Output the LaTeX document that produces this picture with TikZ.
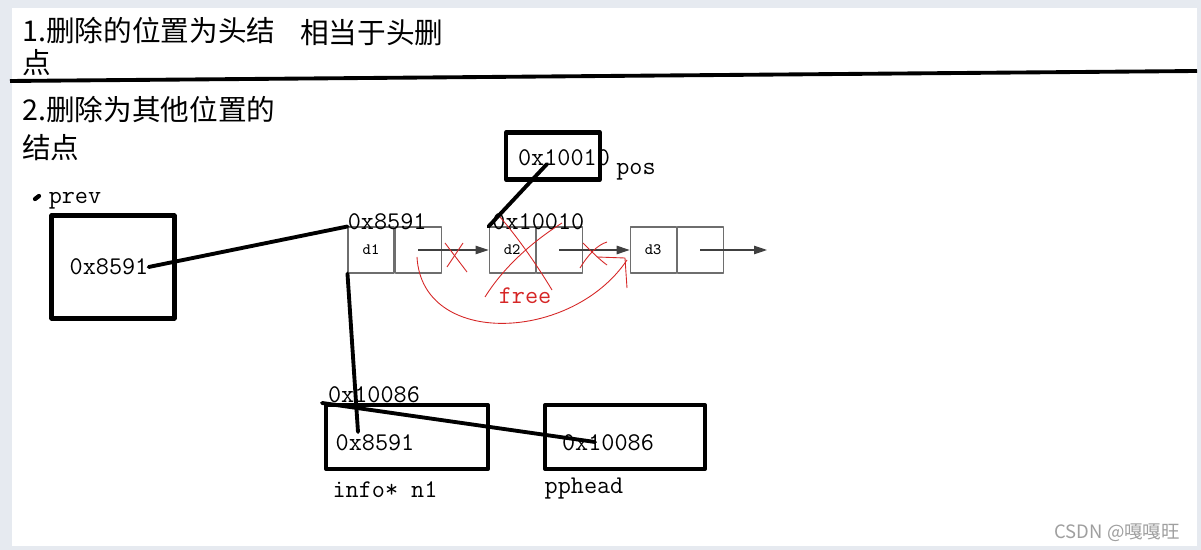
\documentclass[tikz,border=0pt]{standalone}
\usepackage{fontspec}
\newfontfamily\cjk{Noto Sans CJK SC}
\usetikzlibrary{arrows.meta,positioning}
\definecolor{pagegray}{RGB}{230,234,240}
\definecolor{penred}{RGB}{214,38,38}
\definecolor{cellgray}{RGB}{110,110,110}

\begin{document}
\begin{tikzpicture}[x=0.02cm,y=-0.02cm,line join=round,
  hand/.style={font=\cjk\fontsize{16.3}{18}\selectfont,anchor=west,inner sep=0pt},
  addr/.style={font=\ttfamily\fontsize{14.5}{16}\selectfont,inner sep=0pt},
  bigbox/.style={draw,line width=2.3pt,inner sep=0pt},
  cell/.style={draw=cellgray,line width=0.6pt,minimum size=0.92cm,inner sep=0pt,font=\ttfamily\small},
  ptr/.style={line width=2.2pt,line cap=round},
  link/.style={black!75,line width=0.6pt,-{Triangle[length=0.26cm,width=0.17cm]}},
  scrawl/.style={penred,line width=0.5pt}]
\fill[pagegray] (0,0) rectangle (1201,550);
\fill[white] (12,8) rectangle (1197,546);
\node[hand] (t1) at (22,31) {1.删除的位置为头结};
\node[hand] (t1b) at (22,63) {点};
\node[hand] (t1c) at (300,33) {相当于头删};
\draw[line width=2.2pt] (10,81) -- (1197,71);
\node[hand] (t2) at (22,110) {2.删除为其他位置的};
\node[hand] (t2b) at (22,148) {结点};
\draw[line width=2.4pt,line cap=round] (35,199) -- (39,196);
\node[addr] (prevlbl) at (75,201) {prev};
\node[bigbox,minimum width=2.46cm,minimum height=2.06cm] (prevbox) at (113,267) {};
\node[addr] (prevval) at (109,267) {0x8591};
\node[cell] (d1) at (371,250) {d1};
\node[cell,right=0pt of d1] (d1n) {};
\node[cell,right=0.94cm of d1n] (d2) {d2};
\node[cell,right=0pt of d2] (d2n) {};
\node[cell,right=0.94cm of d2n] (d3) {d3};
\node[cell,right=0pt of d3] (d3n) {};
\coordinate (tail) at (767,250);
\draw[link] (d1n.center) -- (d2.west);
\draw[link] (d2n.center) -- (d3.west);
\draw[link] (d3n.center) -- (tail);
\node[addr,anchor=south west] (d1addr) at ([yshift=-2pt]d1.north west) {0x8591};
\node[addr,anchor=south west] (d2addr) at ([xshift=2pt,yshift=-2pt]d2.north west) {0x10010};
\node[bigbox,minimum width=1.88cm,minimum height=0.94cm] (posbox) at (553,156) {};
\node[addr] (posval) at (564,158) {0x10010};
\node[addr,anchor=west] (poslbl) at (616,172) {pos};
\coordinate (posin) at (547,164);
\draw[ptr] (prevval.east) -- (d1.north west);
\draw[ptr] (posin) -- (d2.north west);
\node[bigbox,minimum width=3.24cm,minimum height=1.28cm] (n1) at (407,437) {};
\node[addr] (n1val) at (375,443) {0x8591};
\node[addr] (n1addr) at (374,395) {0x10086};
\node[addr] (n1lbl) at (385,490) {info* n1};
\node[bigbox,minimum width=3.2cm,minimum height=1.28cm] (pphead) at (625,437) {};
\node[addr] (ppval) at (608,443) {0x10086};
\node[addr] (pplbl) at (584,489) {pphead};
\coordinate (n1in) at (358,432);
\coordinate (ppin) at (595,442);
\draw[ptr] (d1.south west) -- (n1in);
\draw[ptr] (n1.north west) ++(-2,0) -- (ppin);
\draw[scrawl] (445,243) -- (467,272);
\draw[scrawl] (447,267) -- (463,243);
\draw[scrawl] (485,297) .. controls (505,265) and (535,240) .. (562,223);
\draw[scrawl] (500,217) .. controls (520,240) and (540,270) .. (552,290);
\draw[scrawl] (580,268) .. controls (588,255) and (597,245) .. (607,242);
\draw[scrawl] (583,243) .. controls (592,252) and (600,260) .. (607,265);
\draw[scrawl] (417,257) .. controls (422,348) and (572,342) .. (627,260);
\draw[scrawl] (597,257) -- (625,258) -- (627,288);
\node[addr,text=penred] (freelbl) at (525,296) {free};
\node[font=\cjk\fontsize{10.5}{12}\selectfont,text=gray!75,anchor=east] (mark) at (1186,533) {CSDN @嘎嘎旺};
\end{tikzpicture}
\end{document}
